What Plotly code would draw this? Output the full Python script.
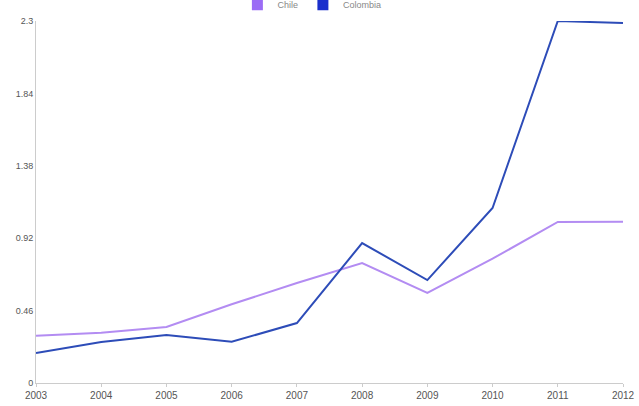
import plotly.graph_objects as go

years = [2003, 2004, 2005, 2006, 2007, 2008, 2009, 2010, 2011, 2012]
chile = [0.30, 0.32, 0.356, 0.50, 0.635, 0.762, 0.572, 0.79, 1.023, 1.025]
colombia = [0.19, 0.26, 0.305, 0.262, 0.381, 0.889, 0.654, 1.112, 2.30, 2.287]
y_ticks = [0, 0.46, 0.92, 1.38, 1.84, 2.3]
y_tick_labels = ["0", "0.46", "0.92", "1.38", "1.84", "2.3"]

chile_color = "#b38cf2"
colombia_color = "#2d4cb8"

fig = go.Figure()
fig.add_trace(go.Scatter(x=years, y=chile, mode="lines", name="Chile", showlegend=False,
                         line=dict(color=chile_color, width=2)))
fig.add_trace(go.Scatter(x=years, y=colombia, mode="lines", name="Colombia", showlegend=False,
                         line=dict(color=colombia_color, width=2)))
# legend entries with square swatches
fig.add_trace(go.Scatter(x=[None], y=[None], mode="markers", name="Chile",
                         marker=dict(symbol="square", size=11, color="#9b6cf5")))
fig.add_trace(go.Scatter(x=[None], y=[None], mode="markers", name="Colombia",
                         marker=dict(symbol="square", size=11, color="#1a2fcc")))

fig.update_layout(
    width=639, height=406,
    margin=dict(l=36, r=16, t=21, b=23, autoexpand=False),
    paper_bgcolor="white", plot_bgcolor="white",
    font=dict(family="Arial, Liberation Sans, sans-serif", size=9, color="#555"),
    showlegend=True,
    legend=dict(orientation="h", x=0.47, xanchor="center", y=1.045, yanchor="middle",
                font=dict(size=9, color="#888"), itemwidth=30,
                bgcolor="rgba(0,0,0,0)"),
    xaxis=dict(range=[2003, 2012], tickmode="array", tickvals=years,
               ticktext=[str(y) for y in years], showgrid=False, zeroline=False,
               showline=True, linecolor="#ccc", ticks="outside", ticklen=3,
               tickcolor="#ccc", tickfont=dict(size=10, color="#555")),
    yaxis=dict(range=[0, 2.3], tickmode="array", tickvals=y_ticks,
               ticktext=y_tick_labels, showgrid=False, zeroline=False,
               showline=True, linecolor="#ccc", ticks="", ticklen=0,
               tickfont=dict(size=9, color="#555")),
)

fig.write_html("out.html", config={"displayModeBar": False},
               post_script="document.body.style.margin='0';document.body.style.overflow='hidden';")
